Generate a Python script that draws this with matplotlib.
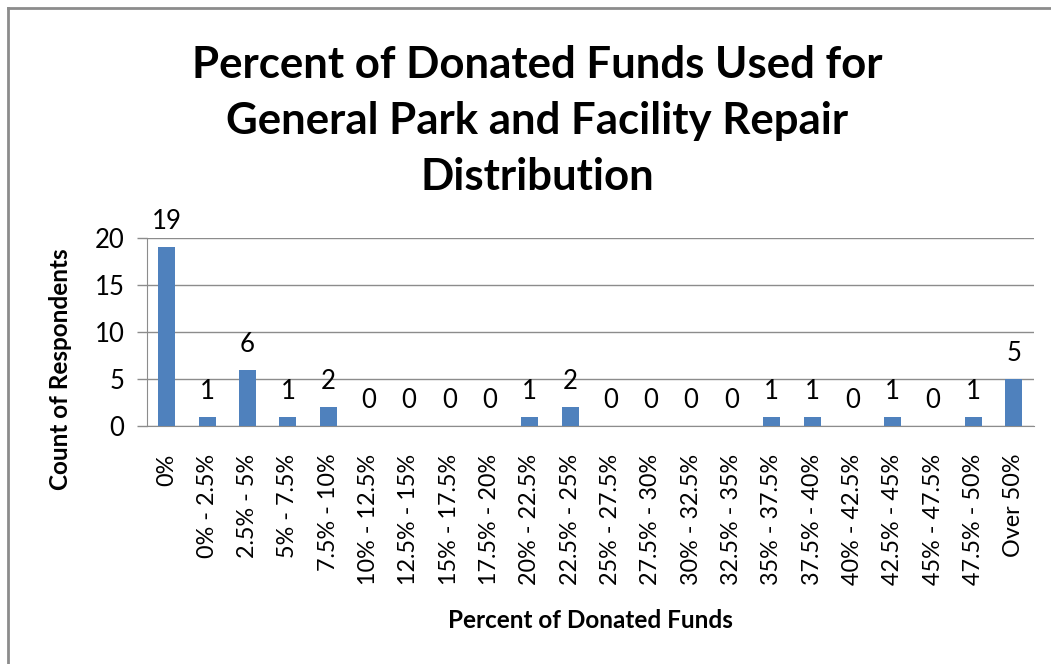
import matplotlib
matplotlib.use("Agg")
import matplotlib.pyplot as plt
from matplotlib.lines import Line2D

categories = ["0%", "0% - 2.5%", "2.5% - 5%", "5% - 7.5%", "7.5% - 10%",
              "10% - 12.5%", "12.5% - 15%", "15% - 17.5%", "17.5% - 20%",
              "20% - 22.5%", "22.5% - 25%", "25% - 27.5%", "27.5% - 30%",
              "30% - 32.5%", "32.5% - 35%", "35% - 37.5%", "37.5% - 40%",
              "40% - 42.5%", "42.5% - 45%", "45% - 47.5%", "47.5% - 50%",
              "Over 50%"]
counts = [19, 1, 6, 1, 2, 0, 0, 0, 0, 1, 2, 0, 0, 0, 0, 1, 1, 0, 1, 0, 1, 5]
yticks = [0, 5, 10, 15, 20]

title = "Percent of Donated Funds Used for\nGeneral Park and Facility Repair\nDistribution"
xlabel = "Percent of Donated Funds"
ylabel = "Count of Respondents"

plt.rcParams['font.family'] = ['Lato', 'DejaVu Sans']

W, H = 1051, 664
fig = plt.figure(figsize=(W / 100, H / 100), dpi=100)
ax = fig.add_axes([146.7 / W, 1 - 426 / H, (1034 - 146.7) / W, (426 - 238) / H])

bar_color = "#4F81BD"
grid_color = "#8C8C8C"
x = list(range(len(categories)))
ax.bar(x, counts, width=0.42, color=bar_color, zorder=3)
ax.set_xlim(-0.5, len(categories) - 0.5)
ax.set_ylim(0, 20)
ax.set_yticks(yticks)
ax.set_xticks(x)
ax.set_xticklabels(categories, rotation=90, fontsize=16.8)
ax.tick_params(axis='y', labelsize=18.5, length=7, width=1, color=grid_color, pad=9)
ax.tick_params(axis='x', length=0, pad=20)
ax.yaxis.grid(True, color=grid_color, linewidth=1, zorder=0)
for side in ['top', 'right']:
    ax.spines[side].set_visible(False)
ax.spines['left'].set_color(grid_color)
ax.spines['bottom'].set_color(grid_color)

for xi, v in zip(x, counts):
    ax.annotate(str(v), (xi, v), xytext=(0, 13), textcoords='offset points',
                ha='center', va='baseline', fontsize=18.5)

fig.text(537 / W, 1 - 190 / H, title, ha='center', va='baseline',
         fontsize=31.5, fontweight='bold', linespacing=1.49)
fig.text(590 / W, 1 - 628 / H, xlabel, ha='center', va='baseline',
         fontsize=17.5, fontweight='bold')
fig.text(60 / W, 1 - 369 / H, ylabel, ha='center', va='center',
         fontsize=17.5, fontweight='bold', rotation=90)

fig.add_artist(Line2D([8 / W, 8 / W], [0, 1 - 8 / H], transform=fig.transFigure,
                      color="#8C8C8C", linewidth=2))
fig.add_artist(Line2D([8 / W, 1], [1 - 8 / H, 1 - 8 / H], transform=fig.transFigure,
                      color="#8C8C8C", linewidth=2))

fig.savefig("out.png", dpi=100)
